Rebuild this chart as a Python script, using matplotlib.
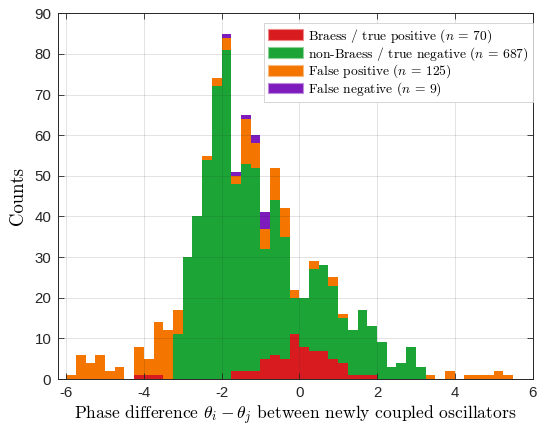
import numpy as np
import matplotlib
matplotlib.use("Agg")
import matplotlib.pyplot as plt
from matplotlib.patches import Patch

# ---- data (counts per 0.25-wide bin, left edges from -6.0 to 5.25) ----
bin_left = np.arange(-6.0, 5.5, 0.25)
bin_width = 0.25
red_tp = [0]*7 + [1, 1, 1] + [0]*7 + [2, 2, 2, 5, 6, 5, 11, 8, 7, 7, 5, 4, 1, 1, 1] + [0]*14
green_tn = [0]*11 + [11, 30, 40, 54, 72, 81, 46, 51, 50, 27, 38, 30, 9, 12, 20, 21, 18, 11,
                     11, 16, 12, 9, 3, 4, 8, 3] + [0]*9
orange_fp = [1, 6, 4, 6, 2, 3, 0, 7, 4, 13, 12, 6, 0, 0, 1, 2, 3, 2, 11, 6, 5, 8, 7, 2,
             0, 2, 0, 2, 1, 0, 0, 0, 0, 0, 0, 0, 0, 1, 0, 2, 0, 1, 1, 1, 2, 1]
purple_fn = [0]*16 + [1, 1, 1, 2, 4] + [0]*25

series = [red_tp, green_tn, orange_fp, purple_fn]
labels = [r"Braess / true positive ($n$ = 70)",
          r"non-Braess / true negative ($n$ = 687)",
          r"False positive ($n$ = 125)",
          r"False negative ($n$ = 9)"]
colors = ["#d81b1f", "#1ca536", "#f47500", "#7e1bbd"]
edge_colors = ["#ee8a8c", "#8ed29a", "#f9ba80", "#be8dde"]

xticks = [-6, -4, -2, 0, 2, 4, 6]
yticks = list(range(0, 91, 10))

plt.rcParams['mathtext.fontset'] = 'cm'
plt.rcParams['font.family'] = ['Liberation Sans', 'DejaVu Sans']

fig = plt.figure(figsize=(5.42, 4.26), dpi=100)
ax = fig.add_axes([0.1076, 0.1103, 0.8749, 0.8585])

bottom = np.zeros(len(bin_left))
for vals, c in zip(series, colors):
    vals = np.array(vals, dtype=float)
    ax.bar(bin_left, vals, width=bin_width, bottom=bottom, align='edge',
           color=c, edgecolor='none', linewidth=0, zorder=1)
    bottom += vals

ax.set_xlim(-6.2, 6.0)
ax.set_ylim(0, 90)
ax.set_xticks(xticks)
ax.set_yticks(yticks)
ax.set_xticklabels([str(t) for t in xticks])
ax.tick_params(direction='in', top=True, right=True, length=4, width=0.6,
               labelsize=10.8, colors='#262626', pad=5)
ax.grid(True, color='#262626', alpha=0.15, linewidth=0.6)
ax.set_axisbelow(False)
for s in ax.spines.values():
    s.set_color('#262626')
    s.set_linewidth(0.7)

ax.set_xlabel(r"Phase difference $\theta_i-\theta_j$ between newly coupled oscillators",
              fontfamily='cmr10', fontsize=12.6, labelpad=3)
ax.set_ylabel("Counts", fontfamily='cmr10', fontsize=13.5, labelpad=5)

handles = [Patch(facecolor=c, edgecolor=ec, linewidth=0.8) for c, ec in zip(colors, edge_colors)]
leg = ax.legend(handles, labels, loc='upper right', bbox_to_anchor=(1.0, 0.9735),
                borderaxespad=0, fancybox=False, framealpha=1, edgecolor='#cfcfcf',
                prop={'family': 'cmr10', 'size': 9.7}, handlelength=2.6, handleheight=0.85,
                handletextpad=0.35, labelspacing=0.0, borderpad=0.3)
leg.get_frame().set_linewidth(0.6)

fig.savefig("out.png", dpi=100)
